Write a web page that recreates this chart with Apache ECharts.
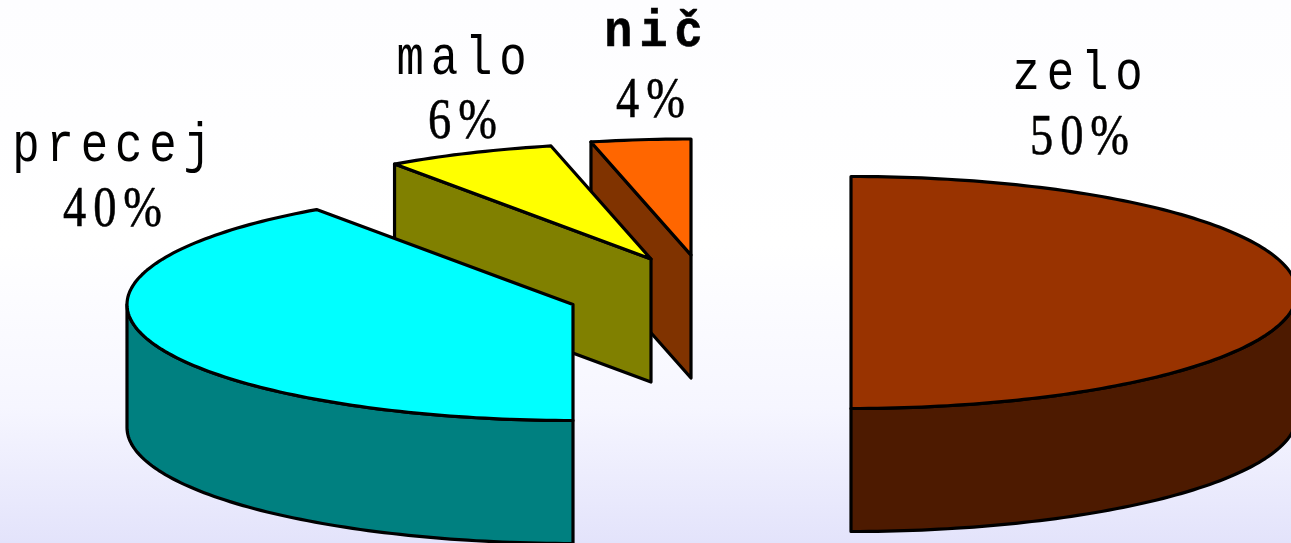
<!DOCTYPE html>
<html>
<head>
<meta charset="utf-8">
<title>pie</title>
<style>
  html, body { margin: 0; padding: 0; }
  #chart { width: 1291px; height: 543px; }
  #chart text { letter-spacing: 0.15em; }
</style>
<script src="https://cdn.jsdelivr.net/npm/echarts@6/dist/echarts.min.js"></script>
</head>
<body>
<div id="chart"></div>
<script>
// slice order is clockwise from 12 o'clock
const categories = ['zelo', 'precej', 'malo', 'nič'];
const shares = [50, 40.25, 6.15, 3.6];

const topColors = ['#993300', '#00FFFF', '#FFFF00', '#FF6600'];
const sideColors = ['#4D1A00', '#008080', '#808000', '#803300'];

// where each exploded slice sits, and its label rows
const tilt = { rx: 446, ry: 116, depth: 123 };
const centers = [[851, 292.5], [573, 304.5], [651, 259], [691, 255]];
const nameAnchors = [[1081, 74], [115, 146], [465, 59], [657, 32]];
const percentAnchors = [[1083, 134], [116, 206], [466, 118], [654, 97]];
const stacking = [1, 4, 3, 2]; // back to front

const total = shares.reduce((a, b) => a + b, 0);

function toAngle(share) {
  return echarts.number.linearMap(share, [0, total], [0, Math.PI * 2]);
}

function arcPoints(c, from, to, dy) {
  const pts = [];
  const steps = Math.max(2, Math.ceil((to - from) / 0.02));
  for (let k = 0; k <= steps; k++) {
    const a = from + (to - from) * k / steps;
    pts.push([c[0] + tilt.rx * Math.sin(a), c[1] - tilt.ry * Math.cos(a) + dy]);
  }
  return pts;
}

function renderSlice(params, api) {
  const i = params.dataIndex;
  const before = shares.slice(0, i).reduce((a, b) => a + b, 0);
  const a0 = toAngle(before);
  const a1 = toAngle(before + api.value(1));
  const c = centers[i];
  const z = stacking[i] * 10;
  const line = { stroke: '#000', lineWidth: 3.2, lineJoin: 'round' };
  const children = [];

  function face(points, fill, z2) {
    children.push({
      type: 'polygon',
      z2: z2,
      shape: { points: points },
      style: Object.assign({ fill: fill }, line)
    });
  }

  function cutFace(a) {
    const p = arcPoints(c, a, a, 0)[0];
    face([c, p, [p[0], p[1] + tilt.depth], [c[0], c[1] + tilt.depth]], sideColors[i], z);
  }

  // front rim is only seen between 3 and 9 o'clock
  const r0 = Math.max(a0, Math.PI / 2);
  const r1 = Math.min(a1, Math.PI * 1.5);
  if (r1 > r0) {
    const upper = arcPoints(c, r0, r1, 0);
    const lower = arcPoints(c, r0, r1, tilt.depth).reverse();
    face(upper.concat(lower), sideColors[i], z);
  }
  if (Math.sin(a0) < -0.001) cutFace(a0);
  if (Math.sin(a1) > 0.001) cutFace(a1);

  face([c].concat(arcPoints(c, a0, a1, 0)), topColors[i], z + 1);

  function label(text, pos, font, squeeze, weight) {
    children.push({
      type: 'text',
      z2: 100,
      x: pos[0],
      y: pos[1],
      scaleX: squeeze,
      style: {
        text: text,
        fill: '#000',
        stroke: '#000',
        lineWidth: weight,
        align: 'center',
        verticalAlign: 'middle',
        font: font
      }
    });
  }
  if (categories[i] === 'nič') {
    label(categories[i], nameAnchors[i], 'bold 52px "Liberation Mono", monospace', 0.9, 0.6);
  } else {
    label(categories[i], nameAnchors[i], '55px "Liberation Mono", monospace', 0.83, 0);
  }
  label(Math.round(api.value(1)) + '%', percentAnchors[i], '58px "Liberation Serif", serif', 0.8, 0.6);

  return { type: 'group', children: children };
}

const chart = echarts.init(document.getElementById('chart'), null, { renderer: 'svg' });
chart.setOption({
  animation: false,
  backgroundColor: {
    type: 'linear', x: 0, y: 0, x2: 0, y2: 1,
    colorStops: [
      { offset: 0, color: '#FDFDFF' },
      { offset: 0.45, color: '#FFFFFF' },
      { offset: 0.75, color: '#F6F6FF' },
      { offset: 1, color: '#E3E3FB' }
    ]
  },
  series: [{
    type: 'custom',
    coordinateSystem: 'none',
    silent: true,
    data: categories.map((name, i) => [i, shares[i]]),
    renderItem: renderSlice
  }]
});
</script>
</body>
</html>
